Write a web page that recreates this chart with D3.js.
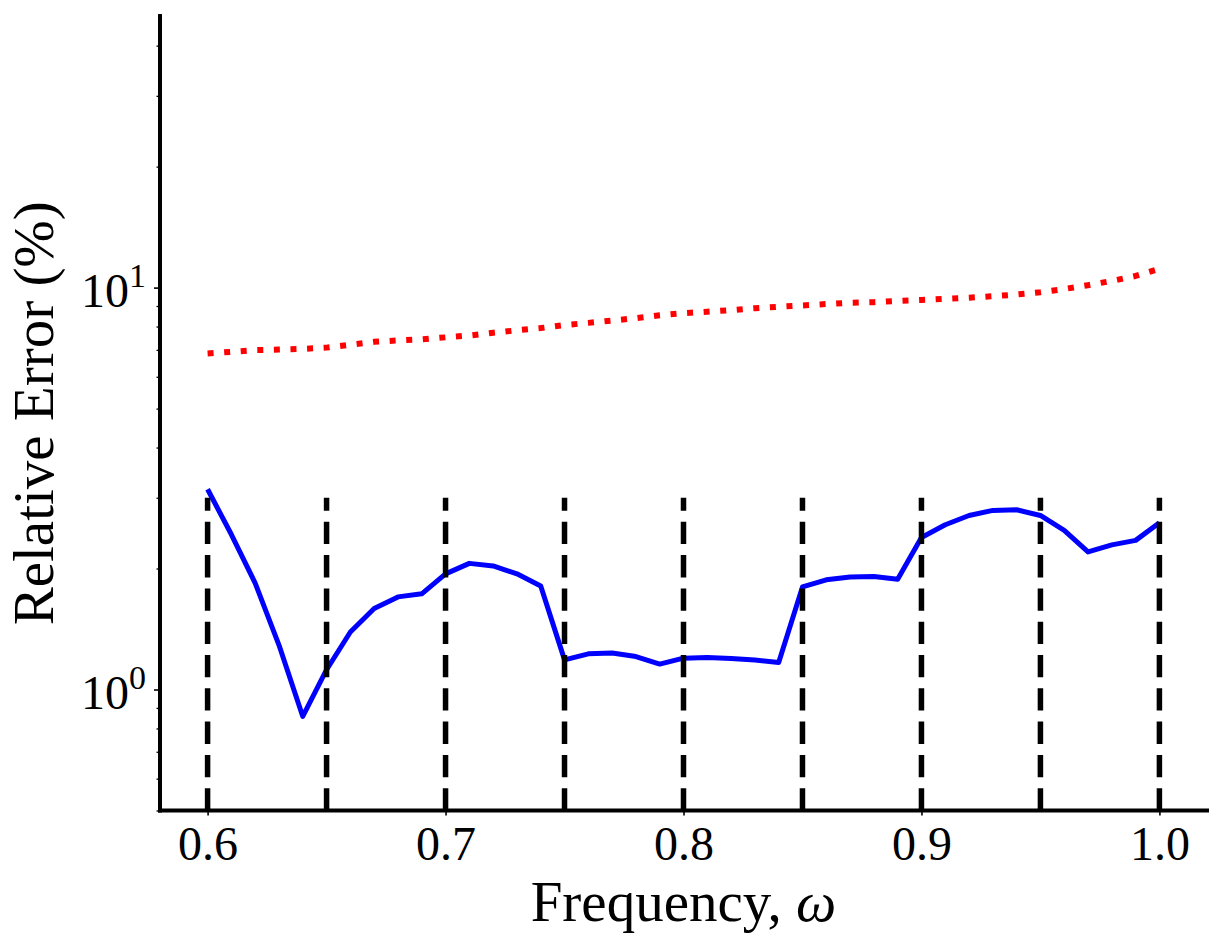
<!DOCTYPE html>
<html>
<head>
<meta charset="utf-8">
<script src="https://cdn.jsdelivr.net/npm/d3@7"></script>
<style>
  html, body { margin: 0; padding: 0; background: #fff; }
  svg { display: block; }
  text { font-family: "Liberation Serif", "Times New Roman", serif; fill: #000; }
</style>
</head>
<body>
<svg id="chart" width="1225" height="950"></svg>
<script>
// ---- data ----
const freq = [0.60,0.61,0.62,0.63,0.64,0.65,0.66,0.67,0.68,0.69,0.70,0.71,0.72,0.73,0.74,0.75,0.76,0.77,0.78,0.79,0.80,
              0.81,0.82,0.83,0.84,0.85,0.86,0.87,0.88,0.89,0.90,0.91,0.92,0.93,0.94,0.95,0.96,0.97,0.98,0.99,1.00];
const blueErr = [3.15,2.43,1.84,1.29,0.857,1.12,1.39,1.59,1.70,1.73,1.94,2.06,2.03,1.94,1.81,1.185,1.227,1.232,1.208,1.157,1.197,
                 1.201,1.195,1.184,1.167,1.80,1.875,1.905,1.91,1.88,2.39,2.57,2.71,2.79,2.80,2.71,2.49,2.20,2.29,2.35,2.60];
const redErr = [6.86,6.92,6.99,7.01,7.04,7.09,7.21,7.33,7.39,7.44,7.52,7.60,7.72,7.83,7.93,8.07,8.17,8.28,8.39,8.53,8.64,
                8.71,8.79,8.89,8.96,9.03,9.10,9.17,9.20,9.27,9.32,9.38,9.44,9.52,9.61,9.74,9.92,10.14,10.39,10.69,11.13];
const vlineX = [0.60,0.65,0.70,0.75,0.80,0.85,0.90,0.95,1.00];
const vlineTop = 3.0;
const xTicks = [0.6,0.7,0.8,0.9,1.0];
const yMajor = [1,10];
const yMinor = [0.5,0.6,0.7,0.8,0.9,2,3,4,5,6,7,8,9,20,30,40];
const xDomain = [0.58, 1.02];
const yDomain = [0.5, 47.4];

// ---- layout ----
const L = 160, R = 1207, T = 16, B = 810.5;
const svg = d3.select("#chart");
const x = d3.scaleLinear().domain(xDomain).range([L, R]);
const y = d3.scaleLog().domain(yDomain).range([B, T]);

// red dotted
const line = d3.line().x((d, i) => x(freq[i])).y(d => y(d));
svg.append("path").datum(redErr).attr("d", line)
  .attr("fill", "none").attr("stroke", "#ff0000").attr("stroke-width", 6)
  .attr("stroke-dasharray", "6,10.6").attr("stroke-linecap", "butt");

// blue solid
svg.append("path").datum(blueErr).attr("d", line)
  .attr("fill", "none").attr("stroke", "#0000ff").attr("stroke-width", 5)
  .attr("stroke-linejoin", "round").attr("stroke-linecap", "butt");

// vertical dashed lines (drawn from bottom up)
svg.append("g").selectAll("line").data(vlineX).join("line")
  .attr("x1", d => x(d)).attr("x2", d => x(d))
  .attr("y1", y(yDomain[0])).attr("y2", y(vlineTop))
  .attr("stroke", "#000").attr("stroke-width", 5.5)
  .attr("stroke-dasharray", "22.3,11");

// axes with d3 axis generators
const xAxis = d3.axisBottom(x).tickValues(xTicks).tickFormat(d3.format(".1f")).tickSize(5).tickPadding(12);
const gx = svg.append("g").attr("transform", `translate(0,${B})`).call(xAxis);
gx.select(".domain").remove();
gx.selectAll(".tick line").attr("stroke-width", 1.6);
gx.selectAll(".tick text").attr("font-size", 48).attr("font-family", "Liberation Serif").attr("dy", null).attr("y", 49.5);

const yAxisMinor = d3.axisLeft(y).tickValues(yMinor.filter(v => v >= yDomain[0] && v <= yDomain[1])).tickFormat("").tickSize(3.5);
const gym = svg.append("g").attr("transform", `translate(${L},0)`).call(yAxisMinor);
gym.select(".domain").remove();
gym.selectAll(".tick line").attr("stroke-width", 1.3);

const yAxisMajor = d3.axisLeft(y).tickValues(yMajor).tickFormat("").tickSize(6);
const gy = svg.append("g").attr("transform", `translate(${L},0)`).call(yAxisMajor);
gy.select(".domain").remove();
gy.selectAll(".tick line").attr("stroke-width", 1.6);
gy.selectAll(".tick").each(function(d) {
  const t = d3.select(this).append("text")
    .attr("x", -14).attr("y", 18.5).attr("text-anchor", "end")
    .attr("font-size", 48).attr("fill", "#000");
  t.append("tspan").text("10");
  t.append("tspan").attr("dy", -20).attr("font-size", 34).text(String(Math.round(Math.log10(d))));
});

// spines
svg.append("line").attr("x1", L).attr("x2", L).attr("y1", T).attr("y2", B)
  .attr("stroke", "#000").attr("stroke-width", 4).attr("stroke-linecap", "square");
svg.append("line").attr("x1", L).attr("x2", R).attr("y1", B).attr("y2", B)
  .attr("stroke", "#000").attr("stroke-width", 4).attr("stroke-linecap", "square");

// axis labels
const xl = svg.append("text").attr("x", (L + R) / 2).attr("y", 920.5)
  .attr("text-anchor", "middle").attr("font-size", 57);
xl.append("tspan").text("Frequency, ");
xl.append("tspan").attr("font-style", "italic").text("ω");

svg.append("text").attr("transform", `translate(53,${(T + B) / 2}) rotate(-90)`)
  .attr("text-anchor", "middle").attr("font-size", 57)
  .text("Relative Error (%)");
</script>
</body>
</html>
